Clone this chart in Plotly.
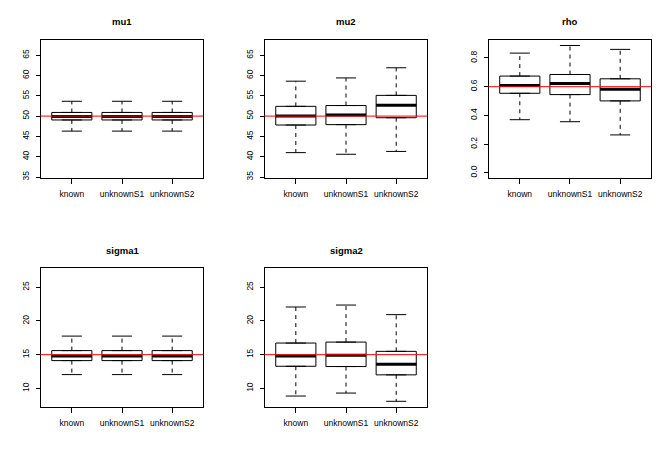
import plotly.graph_objects as go

# estimator summaries: (low whisker, q1, median, q3, high whisker)
methods = ['known', 'unknownS1', 'unknownS2']
params = ['mu1', 'mu2', 'rho', 'sigma1', 'sigma2']
truth = {'mu1': 50, 'mu2': 50, 'rho': 0.6, 'sigma1': 15, 'sigma2': 15}

mu1_stats = [
    [46.3, 49.05, 49.9, 50.9, 53.65],
    [46.3, 49.05, 49.9, 50.9, 53.65],
    [46.3, 49.05, 49.9, 50.9, 53.65],
]
mu2_stats = [
    [41.0, 47.8, 50.0, 52.4, 58.6],
    [40.6, 47.9, 50.3, 52.6, 59.4],
    [41.3, 49.6, 52.7, 55.1, 61.9],
]
rho_stats = [
    [0.370, 0.554, 0.609, 0.674, 0.834],
    [0.356, 0.545, 0.623, 0.685, 0.887],
    [0.264, 0.501, 0.582, 0.655, 0.860],
]
sigma1_stats = [
    [12.05, 14.12, 14.8, 15.6, 17.75],
    [12.05, 14.12, 14.8, 15.6, 17.75],
    [12.05, 14.12, 14.8, 15.6, 17.75],
]
sigma2_stats = [
    [8.87, 13.28, 14.8, 16.72, 22.06],
    [9.31, 13.24, 14.9, 16.86, 22.35],
    [8.09, 12.01, 13.58, 15.49, 20.93],
]
stats = {'mu1': mu1_stats, 'mu2': mu2_stats, 'rho': rho_stats,
         'sigma1': sigma1_stats, 'sigma2': sigma2_stats}

y_ranges = {'mu1': [34.8, 68.8], 'mu2': [34.8, 68.8], 'rho': [-0.035, 0.927],
            'sigma1': [7.3, 27.8], 'sigma2': [7.3, 27.8]}
y_ticks = {'mu1': [35, 40, 45, 50, 55, 60, 65], 'mu2': [35, 40, 45, 50, 55, 60, 65],
           'rho': [0.0, 0.2, 0.4, 0.6, 0.8],
           'sigma1': [10, 15, 20, 25], 'sigma2': [10, 15, 20, 25]}

# panel placement (paper coords) like par(mfrow=c(2,3))
col_domains = [[0.0606, 0.3025], [0.3939, 0.6359], [0.7272, 0.9692]]
row_domains = [[0.6109, 0.9130], [0.1102, 0.4130]]

FONT = 'Liberation Sans, Arial, Helvetica, sans-serif'
BOXW = 0.8
CAPW = 0.4

fig = go.Figure()
annotations = []
shapes = []
pos = [1, 2, 3]

for k, p in enumerate(params):
    row, col = divmod(k, 3)
    n = k + 1
    xa = 'x' if n == 1 else f'x{n}'
    ya = 'y' if n == 1 else f'y{n}'
    s = stats[p]
    lo = [r[0] for r in s]
    q1 = [r[1] for r in s]
    med = [r[2] for r in s]
    q3 = [r[3] for r in s]
    hi = [r[4] for r in s]

    fig.add_trace(go.Box(
        x=pos, q1=q1, median=med, q3=q3, lowerfence=q1, upperfence=q3,
        width=BOXW, fillcolor='white', line=dict(color='black', width=1),
        boxpoints=False, hoverinfo='skip', showlegend=False,
        xaxis=xa, yaxis=ya,
    ))

    # dashed whiskers
    wx, wy = [], []
    for i in range(3):
        wx += [pos[i], pos[i], None, pos[i], pos[i], None]
        wy += [q3[i], hi[i], None, q1[i], lo[i], None]
    fig.add_trace(go.Scatter(x=wx, y=wy, mode='lines', line=dict(color='black', width=1, dash='4px,4px'),
                             hoverinfo='skip', showlegend=False, xaxis=xa, yaxis=ya))
    # staples
    cx, cy = [], []
    for i in range(3):
        cx += [pos[i] - CAPW / 2, pos[i] + CAPW / 2, None, pos[i] - CAPW / 2, pos[i] + CAPW / 2, None]
        cy += [hi[i], hi[i], None, lo[i], lo[i], None]
    fig.add_trace(go.Scatter(x=cx, y=cy, mode='lines', line=dict(color='black', width=1),
                             hoverinfo='skip', showlegend=False, xaxis=xa, yaxis=ya))
    # thick medians
    mx, my = [], []
    for i in range(3):
        mx += [pos[i] - BOXW / 2, pos[i] + BOXW / 2, None]
        my += [med[i], med[i], None]
    fig.add_trace(go.Scatter(x=mx, y=my, mode='lines', line=dict(color='black', width=3),
                             hoverinfo='skip', showlegend=False, xaxis=xa, yaxis=ya))

    # abline(h = true value, col = "red")
    shapes.append(dict(type='line', xref=f'{xa} domain', yref=ya, x0=0, x1=1,
                       y0=truth[p], y1=truth[p], line=dict(color='red', width=1), layer='above'))

    axis_common = dict(showline=True, linecolor='black', linewidth=1, mirror=True,
                       ticks='outside', tickcolor='black', showgrid=False, zeroline=False,
                       tickfont=dict(family=FONT, size=8.5, color='black'))
    fig.layout[f'xaxis{n if n > 1 else ""}'] = dict(
        axis_common, domain=col_domains[col], anchor=ya, range=[0.38, 3.62],
        tickmode='array', tickvals=pos, ticktext=methods, ticklen=5, ticklabelstandoff=3,
    )
    fig.layout[f'yaxis{n if n > 1 else ""}'] = dict(
        axis_common, domain=row_domains[row], anchor=xa, range=y_ranges[p],
        tickmode='array', tickvals=y_ticks[p],
        tickformat='.1f' if p == 'rho' else 'd', tickangle=-90, ticklen=4, ticklabelstandoff=3,
    )
    annotations.append(dict(
        text=f'<b>{p}</b>', xref='paper', yref='paper',
        x=sum(col_domains[col]) / 2, y=row_domains[row][1] + 18 / 460,
        xanchor='center', yanchor='middle', showarrow=False,
        font=dict(family=FONT, size=9.5, color='black'),
    ))

fig.update_layout(
    width=672, height=460,
    margin=dict(l=0, r=0, t=0, b=0),
    paper_bgcolor='white', plot_bgcolor='white',
    annotations=annotations, shapes=shapes,
    showlegend=False,
)

# drop the browser's default body margin so the figure sits at the page origin
fig.write_html("out.html", config={'displayModeBar': False},
               post_script="document.body.style.margin='0';")
